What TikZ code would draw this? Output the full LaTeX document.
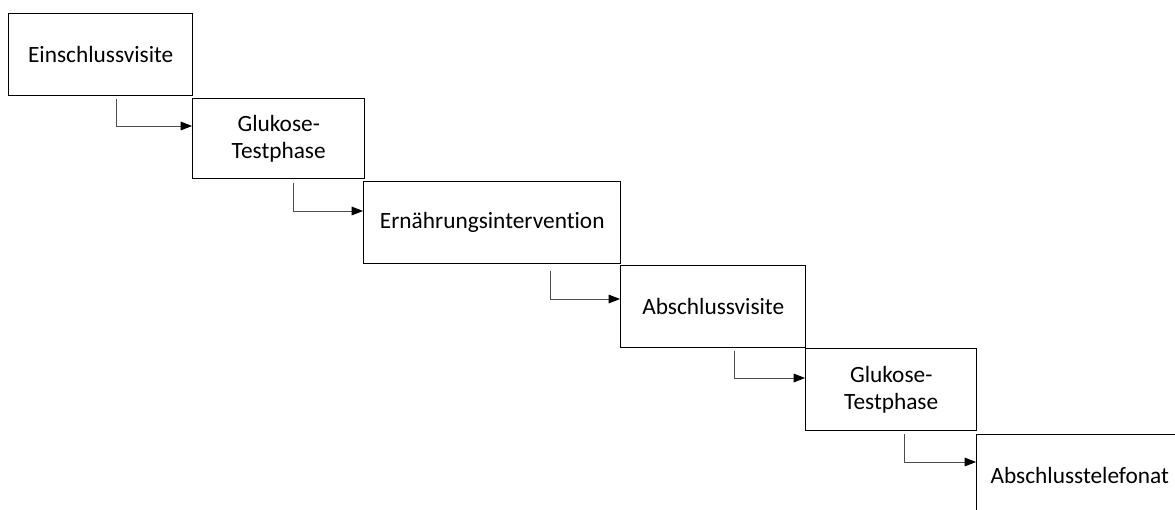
\documentclass[tikz,border=0pt]{standalone}
\usepackage{fontspec}
\setmainfont{Carlito}[Ligatures=NoCommon]
\usetikzlibrary{arrows.meta,calc}

\tikzset{
  stage/.style={draw, line width=1.1pt, anchor=north west, align=center, inner sep=0pt,
    minimum height=61.5pt, font=\fontsize{17.5}{20.5}\selectfont},
  flow/.style={draw=black!70, line width=0.6pt, -{Triangle[length=8.5pt,width=6.5pt,fill=black,color=black]}},
}

\begin{document}
\begin{tikzpicture}[x=0.75pt,y=-0.75pt]
        \clip (0, 0) rectangle (1175, 510);

        \node [stage, minimum width=138pt] (einschluss) at (8, 13) {Einschlussvisite};
        \node [stage, minimum width=129pt, minimum height=60pt] (testA) at (192, 98) {Glukose-\\Testphase};
        \node [stage, minimum width=192.75pt] (ernaehrung) at (363, 181) {Ernährungsintervention};
        \node [stage, minimum width=138.75pt] (abschluss) at (620, 265) {Abschlussvisite};
        \node [stage, minimum width=128.25pt] (testB) at (805, 348) {Glukose-\\Testphase};
        \node [stage, minimum width=154.5pt] (telefonat) at (976, 434) {Abschlusstelefonat};

        \draw [flow] ($(einschluss.south east)+(-77, 3)$) |- ($(testA.north west)+(0, 28)$);
        \draw [flow] ($(testA.south east)+(-72, 4)$) |- ($(ernaehrung.north west)+(0, 30)$);
        \draw [flow] ($(ernaehrung.south east)+(-71, 7)$) |- ($(abschluss.north west)+(0, 34)$);
        \draw [flow] ($(abschluss.south east)+(-72, 3)$) |- ($(testB.north west)+(0, 30)$);
        \draw [flow] ($(testB.south east)+(-73, 3)$) |- ($(telefonat.north west)+(0, 28)$);
\end{tikzpicture}
\end{document}
